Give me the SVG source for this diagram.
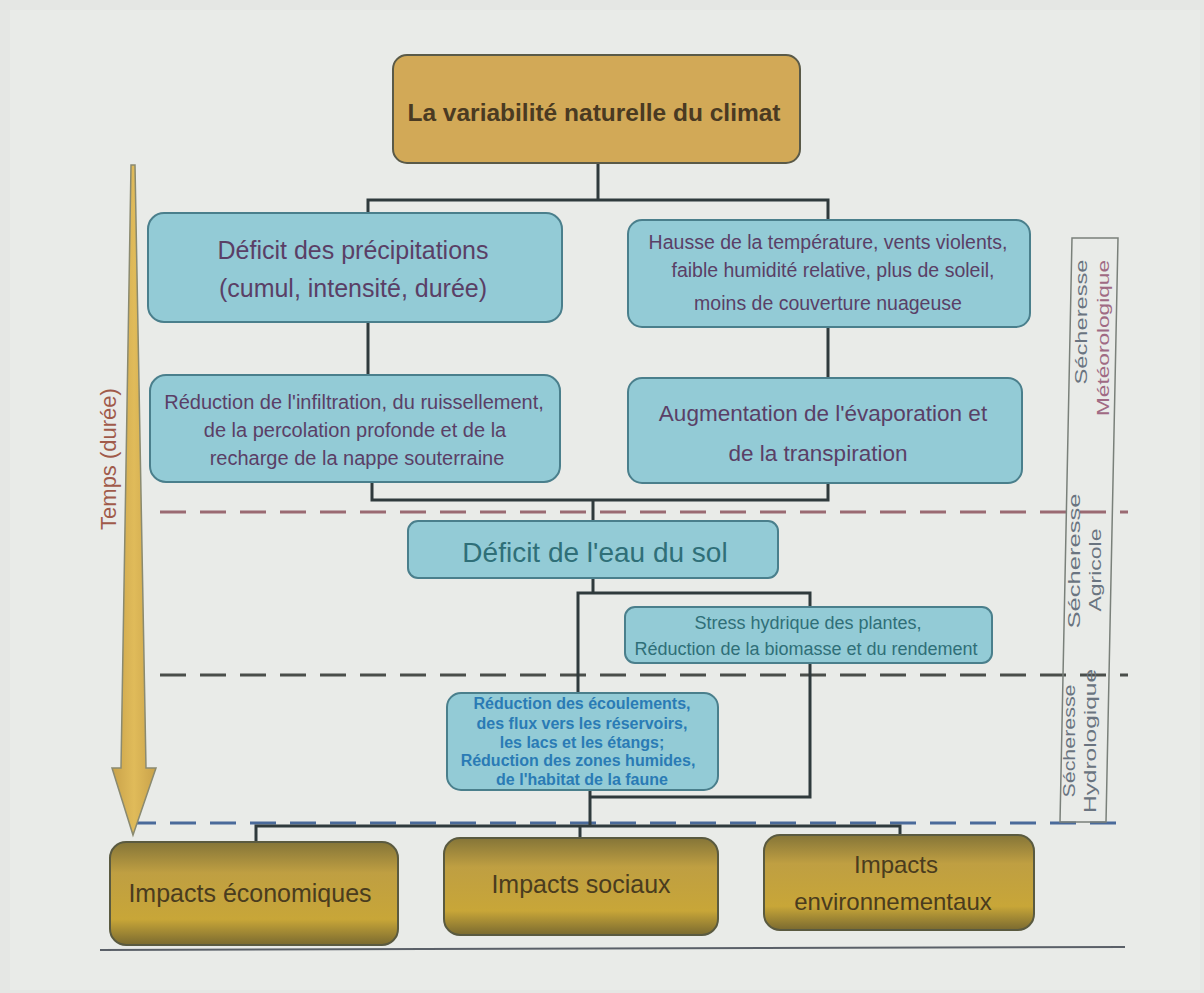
<svg xmlns="http://www.w3.org/2000/svg" width="1204" height="993" viewBox="0 0 1204 993">
<defs>
<linearGradient id="gold" x1="0" y1="0" x2="0" y2="1">
<stop offset="0" stop-color="#857538"/>
<stop offset="0.3" stop-color="#bf9f42"/>
<stop offset="0.75" stop-color="#c8a638"/>
<stop offset="1" stop-color="#7a6a30"/>
</linearGradient>
<linearGradient id="arrowg" x1="0" y1="0" x2="1" y2="0">
<stop offset="0" stop-color="#c9a24a"/>
<stop offset="0.5" stop-color="#e0bb5a"/>
<stop offset="1" stop-color="#c9a24a"/>
</linearGradient>
</defs>
<style>
text{font-family:"Liberation Sans",Arial,sans-serif;text-anchor:middle}
.blue{fill:#93cbd6;stroke:#4a7f8c;stroke-width:2}
.goldbox{fill:url(#gold);stroke:#5a5a40;stroke-width:2}
.conn{fill:none;stroke:#2f3a3c;stroke-width:3}
.purple{fill:#5a3f66}
.teal{fill:#2f6f78}
.hyd{fill:#2a7bb5;font-weight:bold}
.dark{fill:#4a3c1e}
.side{font-size:17px;fill:#6a7480}
</style>
<rect width="1204" height="993" fill="#e5e7e4"/>
<rect x="10" y="10" width="1190" height="980" fill="#e9ebe8"/>

<!-- dashed separators -->
<g id="separators">
<line x1="160" y1="512" x2="1128" y2="512" stroke="#9a6a72" stroke-width="3" stroke-dasharray="26,14"/>
<line x1="160" y1="675" x2="1128" y2="675" stroke="#4a4e4a" stroke-width="3" stroke-dasharray="26,14"/>
<line x1="130" y1="823" x2="1128" y2="823" stroke="#4a6a9a" stroke-width="3" stroke-dasharray="26,14"/>
<line x1="100" y1="950" x2="1125" y2="947" stroke="#5a6068" stroke-width="2"/>
</g>

<!-- connectors -->
<g id="connectors">
<path class="conn" d="M598 163 V200 M368 213 V200 H828 V220"/>
<path class="conn" d="M368 322 V375 M828 327 V378"/>
<path class="conn" d="M372 482 V500 H828 V483 M593 500 V521"/>
<path class="conn" d="M593 578 V593 M578 693 V593 H810 V607 M810 663 V797 H590 M590 790 V826"/>
<path class="conn" d="M256 842 V826 H900 V835 M580 826 V838"/>
</g>

<!-- time arrow -->
<g id="time-arrow">
<path d="M131 165 L135 165 L146 768 L156 768 L133 835 L112 768 L121 768 Z" fill="url(#arrowg)" stroke="#8a8a70" stroke-width="1.5"/>
<text transform="translate(116 459) rotate(-90)" font-size="22" fill="#a05a4a">Temps (durée)</text>
</g>

<g id="n-climat">
<rect x="393" y="55" width="407" height="108" rx="14" fill="#d2a957" stroke="#5a5a48" stroke-width="2"/>
<text x="594" y="121" font-size="24.5" font-weight="bold" fill="#4a3a22">La variabilité naturelle du climat</text>
</g>

<g id="n-precip">
<rect class="blue" x="148" y="213" width="414" height="109" rx="16"/>
<text class="purple" x="353" y="259" font-size="25">Déficit des précipitations</text>
<text class="purple" x="353" y="297" font-size="25">(cumul, intensité, durée)</text>
</g>

<g id="n-temp">
<rect class="blue" x="628" y="220" width="402" height="107" rx="14"/>
<text class="purple" x="828" y="249" font-size="19.5">Hausse de la température, vents violents,</text>
<text class="purple" x="833" y="277" font-size="19.5">faible humidité relative, plus de soleil,</text>
<text class="purple" x="828" y="310" font-size="19.5">moins de couverture nuageuse</text>
</g>

<g id="n-infil">
<rect class="blue" x="150" y="375" width="410" height="107" rx="16"/>
<text class="purple" x="354" y="409" font-size="20">Réduction de l'infiltration, du ruissellement,</text>
<text class="purple" x="355" y="437" font-size="20">de la percolation profonde et de la</text>
<text class="purple" x="357" y="465" font-size="20">recharge de la nappe souterraine</text>
</g>

<g id="n-evap">
<rect class="blue" x="628" y="378" width="394" height="105" rx="14"/>
<text class="purple" x="823" y="421" font-size="22.5">Augmentation de l'évaporation et</text>
<text class="purple" x="818" y="461" font-size="22.5">de la transpiration</text>
</g>

<g id="n-sol">
<rect class="blue" x="408" y="521" width="370" height="57" rx="10"/>
<text class="teal" x="595" y="562" font-size="28">Déficit de l'eau du sol</text>
</g>

<g id="n-stress">
<rect class="blue" x="625" y="607" width="367" height="56" rx="10"/>
<text class="teal" x="808" y="629" font-size="18">Stress hydrique des plantes,</text>
<text class="teal" x="806" y="655" font-size="18">Réduction de la biomasse et du rendement</text>
</g>

<g id="n-hydro">
<rect class="blue" x="447" y="693" width="271" height="97" rx="14"/>
<text class="hyd" x="582" y="709" font-size="16">Réduction des écoulements,</text>
<text class="hyd" x="582" y="729" font-size="16">des flux vers les réservoirs,</text>
<text class="hyd" x="582" y="748" font-size="16">les lacs et les étangs;</text>
<text class="hyd" x="578" y="766" font-size="16">Réduction des zones humides,</text>
<text class="hyd" x="582" y="785" font-size="16">de l'habitat de la faune</text>
</g>

<g id="n-eco">
<rect class="goldbox" x="110" y="842" width="288" height="103" rx="16"/>
<text class="dark" x="250" y="902" font-size="25">Impacts économiques</text>
</g>

<g id="n-soc">
<rect class="goldbox" x="444" y="838" width="274" height="97" rx="16"/>
<text class="dark" x="581" y="893" font-size="25">Impacts sociaux</text>
</g>

<g id="n-env">
<rect class="goldbox" x="764" y="835" width="270" height="95" rx="16"/>
<text class="dark" x="896" y="873" font-size="24">Impacts</text>
<text class="dark" x="893" y="910" font-size="24">environnementaux</text>
</g>

<!-- side labels -->
<g id="drought-types">
<polygon points="1072,238 1118,238 1106,822 1060,822" fill="none" stroke="#7a807a" stroke-width="1.5"/>
<text class="side" transform="translate(1087 322) rotate(-90)" textLength="125" lengthAdjust="spacingAndGlyphs">Sécheresse</text>
<text class="side" transform="translate(1109 338) rotate(-90)" textLength="156" lengthAdjust="spacingAndGlyphs" style="fill:#a06a84">Météorologique</text>
<text class="side" transform="translate(1080 561) rotate(-90)" textLength="135" lengthAdjust="spacingAndGlyphs">Sécheresse</text>
<text class="side" transform="translate(1101 570) rotate(-90)" textLength="83" lengthAdjust="spacingAndGlyphs">Agricole</text>
<text class="side" transform="translate(1075 741) rotate(-90)" textLength="113" lengthAdjust="spacingAndGlyphs">Sécheresse</text>
<text class="side" transform="translate(1096 741) rotate(-90)" textLength="144" lengthAdjust="spacingAndGlyphs">Hydrologique</text>
</g>
</svg>
